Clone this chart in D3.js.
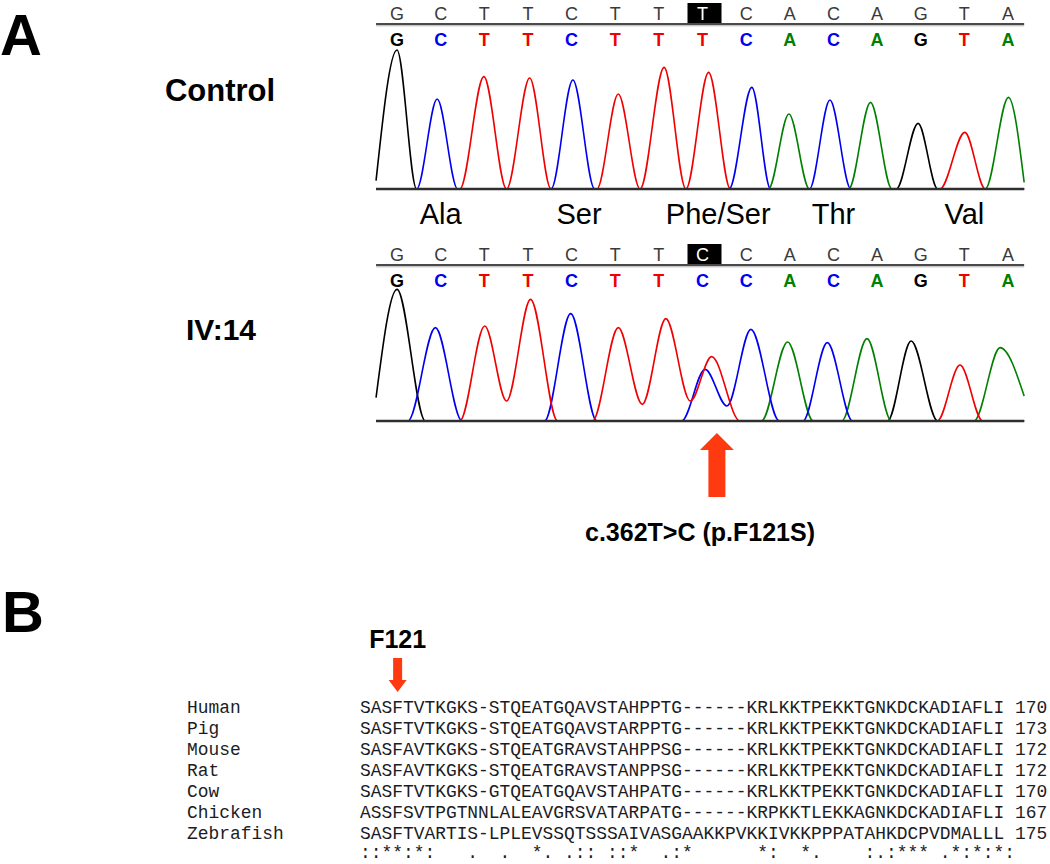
<!DOCTYPE html>
<html>
<head>
<meta charset="utf-8">
<script src="https://cdn.jsdelivr.net/npm/d3@7"></script>
<style>
body { margin: 0; background: #fff; }
text { font-family: "Liberation Sans", Arial, sans-serif; }
.mono { font-family: "Liberation Mono", "Courier New", monospace; }
</style>
</head>
<body>
<svg id="fig" width="1050" height="864"></svg>
<script>
// base calls shown above each trace
const controlCalls = ["G","C","T","T","C","T","T","T","C","A","C","A","G","T","A"];
const mutantCalls  = ["G","C","T","T","C","T","T","C","C","A","C","A","G","T","A"];
const markedBase = 7;

const codonLabels = ["Ala", "Ser", "Phe/Ser", "Thr", "Val"];
const codonAt = [1, 4.17, 7.36, 10, 13];

// trace key points [base index, signal] (peaks, troughs, feet)
const controlG = [[-0.48,25],[0,417],[0.45,0],[11.44,0],[11.94,197],[12.39,0],[14.37,0]];
const controlC = [[-0.48,0],[0.45,0],[0.92,270],[1.39,0],[3.53,0],[4.03,327],[4.53,0],[7.61,0],[8.13,305],[8.56,0],
  [9.45,0],[9.92,267],[10.4,0],[14.37,0]];
const controlT = [[-0.48,0],[1.44,0],[1.99,337],[2.51,0],[3.04,333],[3.53,0],[4.58,0],[5.07,285],[5.57,0],[6.12,365],
  [6.62,0],[7.14,350],[7.64,0],[12.44,0],[13.01,170],[13.48,0],[14.37,0]];
const controlA = [[-0.48,0],[8.51,0],[8.98,225],[9.45,0],[10.35,0],[10.85,260],[11.34,0],[13.48,0],[14.01,275],[14.37,20]];

const mutantG = [[-0.48,70],[0,395],[0.65,0],[11.24,0],[11.78,240],[12.39,0],[14.37,0]];
const mutantC = [[-0.48,0],[0.25,0],[0.88,280],[1.49,0],[3.38,0],[3.98,322],[4.58,0],[6.52,0],[7.06,155],[7.56,45],
  [8.11,275],[8.76,0],[9.3,0],[9.86,235],[10.44,0],[14.37,0]];
const mutantT = [[-0.48,0],[1.44,0],[2.01,285],[2.51,60],[3.06,365],[3.68,0],[4.48,0],[5.07,280],[5.62,50],[6.16,307],
  [6.72,60],[7.21,193],[7.86,0],[12.38,0],[12.9,168],[13.42,0],[14.37,0]];
const mutantA = [[-0.48,0],[8.35,0],[8.95,237],[9.54,0],[10.19,0],[10.77,247],[11.33,0],[13.22,0],[13.82,220],[14.37,75]];

// alignment (panel B)
const species = ["Human","Pig","Mouse","Rat","Cow","Chicken","Zebrafish"];
const sequences = [
  "SASFTVTKGKS-STQEATGQAVSTAHPPTG------KRLKKTPEKKTGNKDCKADIAFLI",
  "SASFTVTKGKS-STQEATGQAVSTARPPTG------KRLKKTPEKKTGNKDCKADIAFLI",
  "SASFAVTKGKS-STQEATGRAVSTAHPPSG------KRLKKTPEKKTGNKDCKADIAFLI",
  "SASFAVTKGKS-STQEATGRAVSTANPPSG------KRLKKTPEKKTGNKDCKADIAFLI",
  "SASFTVTKGKS-GTQEATGQAVSTAHPATG------KRLKKTPEKKTGNKDCKADIAFLI",
  "ASSFSVTPGTNNLALEAVGRSVATARPATG------KRPKKTLEKKAGNKDCKADIAFLI",
  "SASFTVARTIS-LPLEVSSQTSSSAIVASGAAKKPVKKIVKKPPPATAHKDCPVDMALLL"
];
const endPositions = [170, 173, 172, 172, 170, 167, 175];
const conservation = "::**:*:   .  .  *. .:: ::*  .:*      *:  *.    :.:*** .*:*:*:";
const mutatedColumn = 3;

const baseColor = { G: "#000000", C: "#0000f0", T: "#f00000", A: "#008000" };
const arrowRed = "#ff3a10";

const svg = d3.select("#fig");
svg.append("rect").attr("width", 1050).attr("height", 864).attr("fill", "#fff");

const x = d3.scaleLinear().domain([0, 14]).range([397, 1008]);
const traceLeft = x(-0.48), traceRight = x(14.37);

function drawPanel(top, baseline, calls, traces) {
  const g = svg.append("g");
  const y = d3.scaleLinear().domain([0, 420]).range([baseline, baseline - 140]);

  // plain base-call row with the marked base boxed
  g.append("rect")
    .attr("x", x(markedBase) - 15).attr("y", top + 3)
    .attr("width", 34).attr("height", 20)
    .attr("fill", "#000");
  g.selectAll("text.call")
    .data(calls)
    .enter()
    .append("text")
    .attr("class", "call")
    .attr("x", (d, i) => x(i))
    .attr("y", top + 20)
    .attr("text-anchor", "middle")
    .attr("font-size", 18)
    .attr("fill", (d, i) => i === markedBase ? "#fff" : "#3a3a3a")
    .text(d => d);

  g.append("line")
    .attr("x1", traceLeft).attr("x2", traceRight)
    .attr("y1", top + 24).attr("y2", top + 24)
    .attr("stroke", "#4a4a4a").attr("stroke-width", 2);
  g.append("line")
    .attr("x1", traceLeft).attr("x2", traceRight)
    .attr("y1", top + 25.8).attr("y2", top + 25.8)
    .attr("stroke", "#b0b0b0").attr("stroke-width", 1);

  // coloured base-call row
  g.selectAll("text.colour")
    .data(calls)
    .enter()
    .append("text")
    .attr("class", "colour")
    .attr("x", (d, i) => x(i))
    .attr("y", top + 46)
    .attr("text-anchor", "middle")
    .attr("font-size", 18)
    .attr("font-weight", "bold")
    .attr("fill", d => baseColor[d])
    .text(d => d);

  const line = d3.line()
    .x(d => x(d[0]))
    .y(d => y(d[1]))
    .curve(d3.curveMonotoneX);

  g.selectAll("path.trace")
    .data(traces)
    .enter()
    .append("path")
    .attr("class", "trace")
    .attr("fill", "none")
    .attr("stroke", d => baseColor[d.base])
    .attr("stroke-width", 1.6)
    .attr("d", d => line(d.points));

  g.append("line")
    .attr("x1", traceLeft).attr("x2", traceRight)
    .attr("y1", baseline).attr("y2", baseline)
    .attr("stroke", "#2e2e2e").attr("stroke-width", 2.5);
}

drawPanel(0, 189, controlCalls, [
  { base: "G", points: controlG },
  { base: "C", points: controlC },
  { base: "T", points: controlT },
  { base: "A", points: controlA }
]);
drawPanel(241, 421, mutantCalls, [
  { base: "G", points: mutantG },
  { base: "A", points: mutantA },
  { base: "C", points: mutantC },
  { base: "T", points: mutantT }
]);

// codon labels between the traces
svg.selectAll("text.codon")
  .data(codonLabels)
  .enter()
  .append("text")
  .attr("class", "codon")
  .attr("x", (d, i) => x(codonAt[i]))
  .attr("y", 224)
  .attr("text-anchor", "middle")
  .attr("font-size", 29)
  .attr("fill", "#000")
  .text(d => d);

// panel letters and sample names
svg.append("text").attr("x", 0).attr("y", 55).attr("font-size", 58).attr("font-weight", "bold").text("A");
svg.append("text").attr("x", 2).attr("y", 632).attr("font-size", 58).attr("font-weight", "bold").text("B");
svg.append("text").attr("x", 220).attr("y", 101).attr("text-anchor", "middle")
  .attr("font-size", 31).attr("font-weight", "bold").text("Control");
svg.append("text").attr("x", 221).attr("y", 340).attr("text-anchor", "middle")
  .attr("font-size", 30).attr("font-weight", "bold").text("IV:14");

// mutation arrow and label
const ax = x(7.33);
svg.append("path")
  .attr("d", `M${ax},433 L${ax + 17},450 L${ax + 8.5},450 L${ax + 8.5},497 L${ax - 8.5},497 L${ax - 8.5},450 L${ax - 17},450 Z`)
  .attr("fill", arrowRed);
svg.append("text").attr("x", 700).attr("y", 541).attr("text-anchor", "middle")
  .attr("font-size", 25).attr("font-weight", "bold").text("c.362T>C (p.F121S)");

// alignment
const seqX = 360, nameX = 187, charW = 10.75;
const rowY = d3.scaleLinear().domain([0, 1]).range([712.5, 733.5]);

svg.selectAll("text.name")
  .data(species)
  .enter()
  .append("text")
  .attr("class", "name mono")
  .attr("x", nameX)
  .attr("y", (d, i) => rowY(i))
  .attr("font-size", 17.9)
  .attr("fill", "#1c1c24")
  .text(d => d);

svg.selectAll("text.seq")
  .data(sequences)
  .enter()
  .append("text")
  .attr("class", "seq mono")
  .attr("x", seqX)
  .attr("y", (d, i) => rowY(i))
  .attr("font-size", 17.9)
  .attr("fill", "#1c1c24")
  .style("white-space", "pre")
  .text((d, i) => d + " " + endPositions[i]);

svg.append("text")
  .attr("class", "mono")
  .attr("x", seqX)
  .attr("y", 858)
  .attr("font-size", 17.9)
  .attr("fill", "#1c1c24")
  .style("white-space", "pre")
  .text(conservation);

// F121 marker
const fx = seqX + charW * (mutatedColumn + 0.5);
svg.append("text").attr("x", fx).attr("y", 648).attr("text-anchor", "middle")
  .attr("font-size", 25).attr("font-weight", "bold").text("F121");
svg.append("path")
  .attr("d", `M${fx - 4.5},658 L${fx + 4.5},658 L${fx + 4.5},680 L${fx + 9},680 L${fx},692 L${fx - 9},680 L${fx - 4.5},680 Z`)
  .attr("fill", arrowRed);
</script>
</body>
</html>
